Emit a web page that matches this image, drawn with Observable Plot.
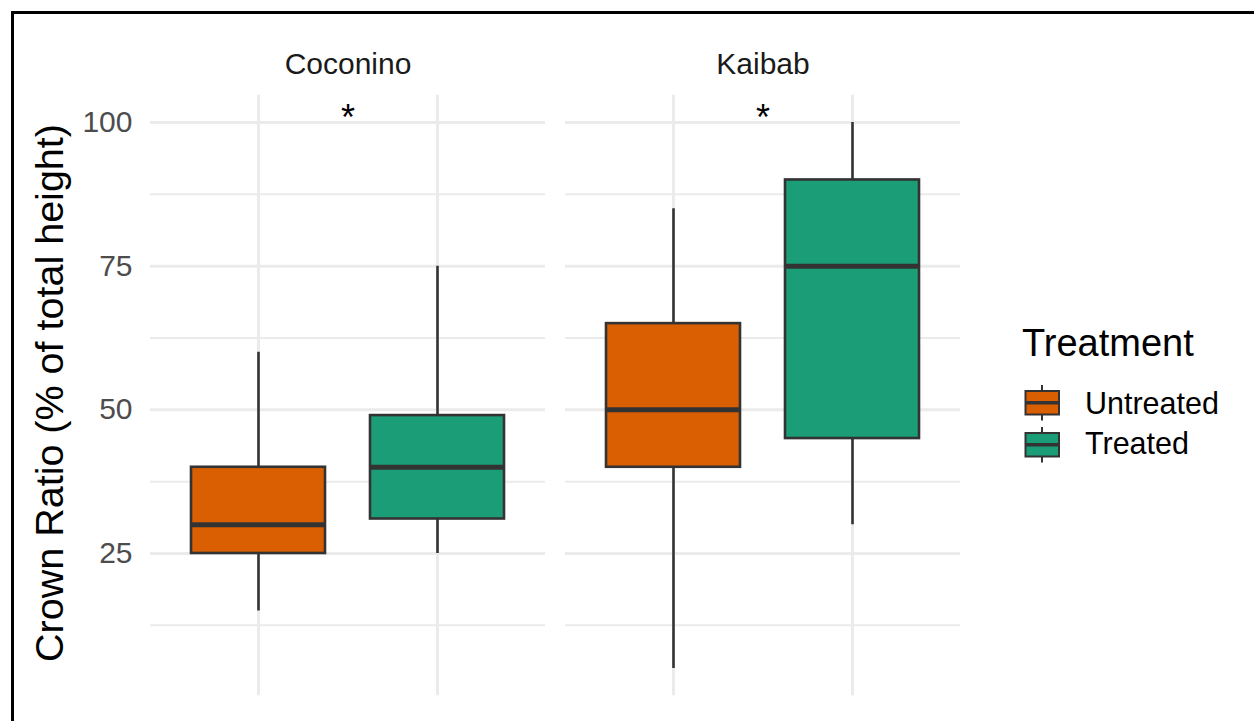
<!DOCTYPE html>
<html><head><meta charset="utf-8">
<script src="https://cdn.jsdelivr.net/npm/d3@7"></script>
<script src="https://cdn.jsdelivr.net/npm/@observablehq/plot@0.6"></script>
<style>
body{margin:0;background:#fff;font-family:"Liberation Sans",Arial,Helvetica,sans-serif;}
#wrap{position:relative;width:1254px;height:721px;overflow:hidden;background:#fff;}
#frame{position:absolute;left:11px;top:11px;width:1400px;height:900px;border-top:3px solid #000;border-left:3px solid #000;box-sizing:border-box;}
#chart{position:absolute;left:0;top:0;}
#overlay{position:absolute;left:0;top:0;}
</style>
</head><body>
<div id="wrap"><div id="frame"></div><div id="chart"></div><svg id="overlay" width="1254" height="721"></svg></div>
<script>
// ---- data ----
const forests = ["Coconino", "Kaibab"];
const treatments = ["Untreated", "Treated"];
const treatmentColors = ["#D95F02", "#1B9E77"];
// order: Coconino-Untreated, Coconino-Treated, Kaibab-Untreated, Kaibab-Treated
const boxForest = ["Coconino", "Coconino", "Kaibab", "Kaibab"];
const boxTreatment = ["Untreated", "Treated", "Untreated", "Treated"];
const lowerWhisker = [15, 25, 5, 30];
const q1 = [25, 31, 40, 45];
const median = [30, 40, 50, 75];
const q3 = [40, 49, 65, 90];
const upperWhisker = [60, 75, 85, 100];
const significance = ["*", "*"];
const significanceY = [100, 100];
const yTicks = [25, 50, 75, 100];
const yMinorTicks = [12.5, 37.5, 62.5, 87.5];
const yTitle = "Crown Ratio (% of total height)";
const legendTitle = "Treatment";

const rows = boxForest.map((f, i) => ({
  forest: f, treatment: boxTreatment[i],
  lo: lowerWhisker[i], q1: q1[i], med: median[i], q3: q3[i], hi: upperWhisker[i]
}));
const sig = forests.map((f, i) => ({forest: f, s: significance[i], y: significanceY[i]}));

const FONT = '"Liberation Sans", Arial, Helvetica, sans-serif';
const grid = "#EBEBEB", dark = "#333333";

const chart = Plot.plot({
  width: 1254, height: 721,
  marginLeft: 150, marginRight: 293, marginTop: 94.7, marginBottom: 25.8,
  style: {fontFamily: FONT, fontSize: "29px", background: "transparent", overflow: "visible"},
  fx: {domain: forests, paddingInner: 0.048, paddingOuter: 0, axis: null, label: null},
  x: {domain: treatments, paddingInner: 0.25, paddingOuter: 0.225, axis: null, label: null},
  y: {domain: [0.25, 104.75], label: null},
  color: {domain: treatments, range: treatmentColors},
  marks: [
    Plot.ruleY(yMinorTicks, {y: d => d, stroke: grid, strokeWidth: 2}),
    Plot.ruleY(yTicks, {y: d => d, stroke: grid, strokeWidth: 3}),
    Plot.ruleX(treatments, {x: d => d, stroke: grid, strokeWidth: 3}),
    Plot.ruleX(rows, {fx: "forest", x: "treatment", y1: "lo", y2: "hi", stroke: dark, strokeWidth: 2.6}),
    Plot.barY(rows, {fx: "forest", x: "treatment", y1: "q1", y2: "q3", fill: "treatment", stroke: dark, strokeWidth: 2.6}),
    Plot.tickY(rows, {fx: "forest", x: "treatment", y: "med", stroke: dark, strokeWidth: 5}),
    Plot.text(sig, {fx: "forest", y: "y", text: "s", dy: 8, lineAnchor: "bottom", fontSize: 36, fill: "#000"}),
    Plot.text(forests, {fx: d => d, text: d => d, frameAnchor: "top", lineAnchor: "bottom", dy: -21.5, fill: "#1A1A1A", fontSize: 30}),
    Plot.axisY(yTicks, {tickSize: 0, tickPadding: 18, fill: "#4D4D4D", fontSize: 30, label: null})
  ]
});
document.getElementById("chart").appendChild(chart);

// ---- overlay: y title and legend ----
const ov = d3.select("#overlay").style("font-family", FONT);
ov.append("text")
  .attr("transform", "translate(62.5,393) rotate(-90)")
  .attr("text-anchor", "middle").attr("font-size", 39.5).attr("fill", "#000")
  .text(yTitle);
ov.append("text").attr("x", 1022).attr("y", 356).attr("font-size", 38).attr("fill", "#000").text(legendTitle);
const keyTop = [391, 433];
const baselines = [413.5, 453.5];
treatments.forEach((t, i) => {
  const g = ov.append("g");
  const y0 = keyTop[i], h = 23.5, cx = 1042;
  g.append("line").attr("x1", cx).attr("x2", cx).attr("y1", y0 - 6).attr("y2", y0 + h + 6).attr("stroke", dark).attr("stroke-width", 2);
  g.append("rect").attr("x", 1025.5).attr("y", y0).attr("width", 33.5).attr("height", h)
    .attr("fill", treatmentColors[i]).attr("stroke", dark).attr("stroke-width", 2);
  g.append("line").attr("x1", 1025.5).attr("x2", 1059).attr("y1", y0 + h / 2).attr("y2", y0 + h / 2).attr("stroke", dark).attr("stroke-width", 3.5);
  ov.append("text").attr("x", 1085).attr("y", baselines[i]).attr("font-size", 30.5).attr("fill", "#000").text(t);
});
</script>
</body></html>
